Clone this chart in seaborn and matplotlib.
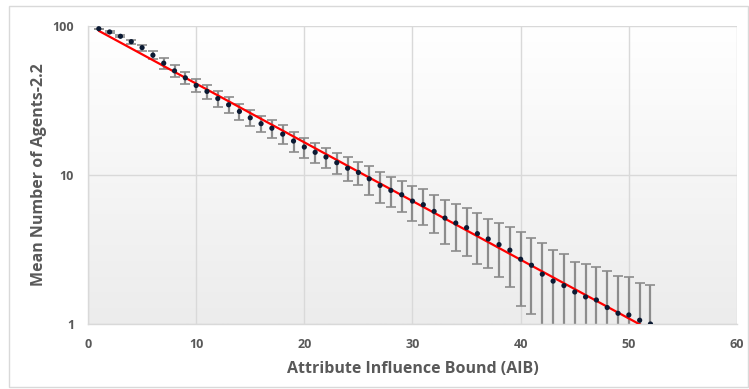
import numpy as np
import pandas as pd
import matplotlib
matplotlib.use("Agg")
import matplotlib.pyplot as plt
from matplotlib.patches import Rectangle
import seaborn as sns

# Attribute influence bound values
aib = list(range(1, 53))

# Mean number of agents at each bound
mean_agents = [
    95.9, 91.2, 85.3, 78.5, 71.6, 63.7, 56.3, 50.0, 44.9, 39.9,
    36.4, 32.6, 29.6, 26.7, 24.2, 22.1, 20.6, 18.8, 16.9, 15.4,
    14.2, 13.2, 12.1, 11.1, 10.4, 9.43, 8.51, 7.88, 7.37, 6.68,
    6.32, 5.70, 5.14, 4.76, 4.43, 4.04, 3.72, 3.41, 3.13, 2.72,
    2.48, 2.16, 1.94, 1.81, 1.64, 1.52, 1.45, 1.29, 1.18, 1.15,
    1.06, 1.00,
]

# Standard deviation at each bound
std_agents = [
    0.3, 0.9, 1.4, 2.4, 3.3, 4.1, 4.5, 4.4, 4.2, 4.0,
    4.0, 3.8, 3.6, 3.3, 2.9, 2.8, 2.9, 2.7, 2.6, 2.4,
    2.2, 2.0, 1.95, 2.05, 1.8, 2.1, 2.0, 1.8, 1.75, 1.75,
    1.68, 1.6, 1.68, 1.65, 1.57, 1.51, 1.35, 1.35, 1.35, 1.40,
    1.32, 1.31, 1.19, 1.12, 0.98, 1.0, 0.97, 0.98, 0.93, 0.92,
    0.83, 0.83,
]

x_ticks = [0, 10, 20, 30, 40, 50, 60]
y_ticks = [1, 10, 100]
y_tick_labels = ["1", "10", "100"]

df = pd.DataFrame({"aib": aib, "mean": mean_agents, "std": std_agents})

# Exponential trend line fitted on log values
slope, intercept = np.polyfit(df["aib"], np.log(df["mean"]), 1)
trend = pd.DataFrame({"aib": df["aib"]})
trend["fit"] = np.exp(intercept + slope * trend["aib"])

sns.set_theme(style="white")
plt.rcParams["font.family"] = ["Open Sans", "DejaVu Sans"]

text_color = "#595959"
grid_color = "#d9d9d9"

fig = plt.figure(figsize=(7.49, 3.89), dpi=100)
ax = fig.add_axes([88 / 749, 1 - 324 / 389, (737 - 88) / 749, (324 - 26) / 389])

# outer chart border
fig.patches.append(Rectangle((9 / 749, 2 / 389), 739 / 749, 381 / 389,
                             transform=fig.transFigure, fill=False,
                             edgecolor="#d9d9d9", linewidth=1.0))

ax.set_yscale("log")

# soft vertical gradient in the plot area
grad = np.linspace(1.0, 0.0, 256).reshape(-1, 1)
cmap = matplotlib.colors.LinearSegmentedColormap.from_list(
    "bg", ["#ececec", "#ffffff"])
ax.imshow(grad, aspect="auto", cmap=cmap, extent=[0, 1, 0, 1],
          transform=ax.transAxes, zorder=-2, interpolation="bilinear")

ax.errorbar(df["aib"], df["mean"], yerr=df["std"], fmt="none",
            ecolor="#8c8c8c", elinewidth=1.6, capsize=3.5, capthick=1.2,
            zorder=2)
sns.lineplot(data=trend, x="aib", y="fit", ax=ax, color="#ff0000",
             linewidth=1.6, zorder=3)
sns.scatterplot(data=df, x="aib", y="mean", ax=ax, color="#0b1a33",
                s=14, edgecolor="none", zorder=4)

ax.set_xlim(0, 60)
ax.set_ylim(1, 100)
ax.set_xticks(x_ticks)
ax.set_yticks(y_ticks)
ax.set_yticklabels(y_tick_labels)
ax.yaxis.set_minor_locator(matplotlib.ticker.NullLocator())
ax.grid(True, which="major", color=grid_color, linewidth=1.0, zorder=-1)
ax.set_axisbelow(True)
ax.tick_params(axis="both", length=0, labelsize=9, labelcolor=text_color,
               pad=10)
for lab in ax.get_xticklabels() + ax.get_yticklabels():
    lab.set_fontweight("bold")

for side in ["top", "right"]:
    ax.spines[side].set_visible(False)
for side in ["left", "bottom"]:
    ax.spines[side].set_color(grid_color)
    ax.spines[side].set_linewidth(1.0)

ax.set_xlabel("Attribute Influence Bound (AIB)", fontsize=11.5,
              fontweight="bold", color=text_color, labelpad=7)
ax.set_ylabel("Mean Number of Agents-2.2", fontsize=11.5,
              fontweight="bold", color=text_color, labelpad=4)

fig.savefig("out.png", dpi=100)
